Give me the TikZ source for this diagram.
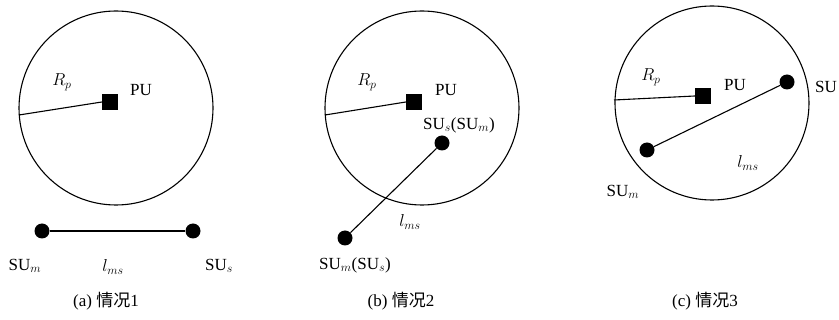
\documentclass[tikz,border=0pt]{standalone}
\usepackage{fontspec}
\setmainfont{Liberation Serif}
\newfontfamily\cjk{Noto Sans CJK SC}
\begin{document}
\begin{tikzpicture}[x=1pt,y=-1pt,
  zone/.style={draw,line width=1.1pt,circle,minimum size=194pt,inner sep=0pt},
  pu/.style={fill=black,minimum size=16pt,inner sep=0pt},
  su/.style={fill=black,circle,minimum size=15pt,inner sep=0pt},
  lnk/.style={line width=1.1pt},
  lbl/.style={font=\fontsize{17}{19}\selectfont,inner sep=0pt},
  captext/.style={font=\fontsize{17}{19}\selectfont,inner sep=0pt}]
\useasboundingbox (0,0) rectangle (839,320);
% (a)
\node[zone] (ca) at (116,108) {};
\node[pu] (pa) at (110,102) {};
\coordinate (ea) at (19,115);
\draw[lnk] (ea) -- (pa.west);
\node[lbl] at (62,82) {$R_p$};
\node[lbl] at (141,90) {PU};
\node[su] (ma) at (42,231) {};
\node[su] (sa) at (193,231) {};
\draw[lnk] (ma) -- (sa);
\node[lbl] at (25,266) {SU$_m$};
\node[lbl] at (113,267) {$l_{ms}$};
\node[lbl] at (219,266) {SU$_s$};
\node[captext] at (106,301) {(a) {\cjk 情况}1};
% (b)
\node[zone] (cb) at (422,108) {};
\node[pu] (pb) at (414,102) {};
\coordinate (eb) at (325,115);
\draw[lnk] (eb) -- (pb.west);
\node[lbl] at (367,82) {$R_p$};
\node[lbl] at (446,90) {PU};
\node[su] (sb) at (442,143) {};
\node[su] (mb) at (345,238) {};
\draw[lnk] (mb) -- (sb);
\node[lbl] at (459,125) {SU$_s$(SU$_m$)};
\node[lbl] at (410,222) {$l_{ms}$};
\node[lbl] at (355,265) {SU$_m$(SU$_s$)};
\node[captext] at (401,301) {(b) {\cjk 情况}2};
% (c)
\node[zone] (cc) at (712,103) {};
\node[pu] (pc) at (703,96) {};
\coordinate (ec) at (614,100);
\draw[lnk] (ec) -- (pc.west);
\node[lbl] at (651,77) {$R_p$};
\node[lbl] at (735,85) {PU};
\node[su] (sc) at (787,82) {};
\node[su] (mc) at (647,150) {};
\draw[lnk] (mc) -- (sc);
\node[lbl,anchor=west] at (815,87) {SU};
\node[lbl] at (623,192) {SU$_m$};
\node[lbl] at (748,163) {$l_{ms}$};
\node[captext] at (705,301) {(c) {\cjk 情况}3};
\end{tikzpicture}
\end{document}
